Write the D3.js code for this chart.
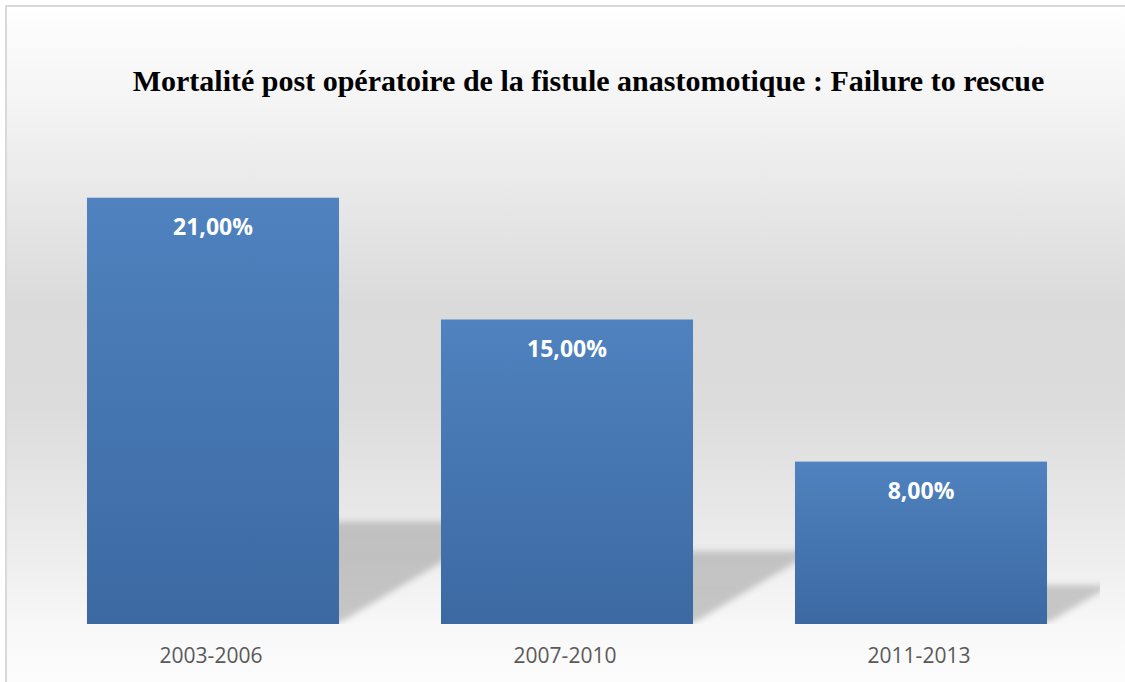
<!DOCTYPE html>
<html><head><meta charset="utf-8">
<script src="https://cdn.jsdelivr.net/npm/d3@7"></script>
<style>html,body{margin:0;padding:0;background:#fff;}svg{display:block;}</style>
</head><body>
<script>
const categories = ["2003-2006", "2007-2010", "2011-2013"];
const values = [21, 15, 8];
const valueLabels = ["21,00%", "15,00%", "8,00%"];
const title = "Mortalité post opératoire de la fistule anastomotique : Failure to rescue";

const W = 1125, H = 682;
const svg = d3.select("body").append("svg").attr("width", W).attr("height", H);
const defs = svg.append("defs");

const bg = defs.append("linearGradient").attr("id","bg")
  .attr("gradientUnits","userSpaceOnUse").attr("x1",0).attr("y1",0).attr("x2",0).attr("y2",H);
[[0,"#ffffff"],[0.14,"#f5f5f5"],[0.45,"#dadada"],[0.6,"#dcdcdc"],[0.8,"#ececec"],[0.92,"#f8f8f8"],[1,"#fcfcfc"]]
  .forEach(([o,c])=>bg.append("stop").attr("offset",o).attr("stop-color",c));

const bar = defs.append("linearGradient").attr("id","bar").attr("x1",0).attr("y1",0).attr("x2",0).attr("y2",1);
bar.append("stop").attr("offset",0).attr("stop-color","#4f82bf");
bar.append("stop").attr("offset",1).attr("stop-color","#3c69a2");

const blur = defs.append("filter").attr("id","blur").attr("x","-20%").attr("y","-20%").attr("width","140%").attr("height","140%");
blur.append("feGaussianBlur").attr("stdDeviation",3);

const shg = defs.append("linearGradient").attr("id","shg").attr("x1",0).attr("y1",0).attr("x2",0).attr("y2",1);
shg.append("stop").attr("offset",0).attr("stop-color","#000").attr("stop-opacity",0.18);
shg.append("stop").attr("offset",1).attr("stop-color","#000").attr("stop-opacity",0.2);

defs.append("clipPath").attr("id","plotclip").append("rect").attr("x",30).attr("y",100).attr("width",1070).attr("height",524);

svg.append("rect").attr("x",0).attr("y",0).attr("width",W).attr("height",H).attr("fill","#fff");
svg.append("rect").attr("x",6).attr("y",6).attr("width",1140).attr("height",700)
  .attr("fill","url(#bg)").attr("stroke","#d9d9d9").attr("stroke-width",2);

const x = d3.scaleBand().domain(categories).range([36,1098]).paddingInner(0.288).paddingOuter(0.144);
const y = d3.scaleLinear().domain([0,25]).range([624,116.5]);

// shadows
const sh = svg.append("g").attr("clip-path","url(#plotclip)");
categories.forEach((c,i)=>{
  const xl = x(c), xr = x(c)+x.bandwidth();
  const h = y(0)-y(values[i]);
  const sy = 0.24*h, dx = sy/0.6;
  const base = y(0);
  sh.append("path")
    .attr("d", `M${xl+dx},${base-sy} L${xr+dx},${base-sy} L${xr+2},${base-2} L${xl+2},${base-2} Z`)
    .attr("fill","url(#shg)").attr("filter","url(#blur)");
});

svg.selectAll("rect.bar").data(values).enter().append("rect").attr("class","bar")
  .attr("x",(d,i)=>x(categories[i])).attr("width",x.bandwidth())
  .attr("y",d=>y(d)).attr("height",d=>y(0)-y(d)).attr("fill","url(#bar)");

svg.selectAll("text.vl").data(values).enter().append("text").attr("class","vl")
  .attr("x",(d,i)=>x(categories[i])+x.bandwidth()/2).attr("y",d=>y(d)+37)
  .attr("text-anchor","middle").attr("fill","#fff")
  .style("font-family","'Open Sans'").style("font-weight","bold").style("font-size","23px")
  .text((d,i)=>valueLabels[i]);

const xAxis = d3.axisBottom(x).tickSize(0).tickPadding(0);
const ax = svg.append("g").attr("transform","translate(0,624)").call(xAxis);
ax.select(".domain").remove();
ax.selectAll("text").attr("dy",null).attr("y",39).attr("x",-2).attr("fill","#595959")
  .style("font-family","'Open Sans'").style("font-size","21px");

svg.append("text").attr("x",588.5).attr("y",91).attr("text-anchor","middle")
  .style("font-family","'Liberation Serif'").style("font-weight","bold").style("font-size","30px")
  .attr("fill","#000").text(title);
</script>
</body></html>
